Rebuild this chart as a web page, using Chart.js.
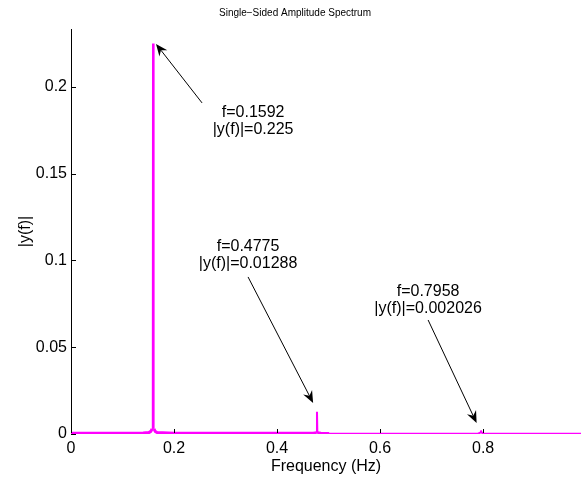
<!DOCTYPE html>
<html>
<head>
<meta charset="utf-8">
<script src="https://cdn.jsdelivr.net/npm/chart.js@4.4.1/dist/chart.umd.min.js"></script>
<style>
html,body{margin:0;padding:0;background:#fff;}
#wrap{position:relative;width:581px;height:477px;}
</style>
</head>
<body>
<div id="wrap"><canvas id="c" width="581" height="477"></canvas></div>
<script>
// ---- data ----
const freq = [0, 0.05, 0.10, 0.14, 0.151, 0.155, 0.1575, 0.1588, 0.1592, 0.1597, 0.161, 0.1635, 0.167, 0.20, 0.30, 0.40, 0.470, 0.4768, 0.4775, 0.4782, 0.485, 0.4995,
              0.5005, 0.60, 0.70, 0.790, 0.7945, 0.7958, 0.7970, 0.802, 0.90, 0.99];
const amp  = [0.0004, 0.0004, 0.0005, 0.0006, 0.0008, 0.0015, 0.003, 0.01, 0.225, 0.01, 0.003, 0.0015, 0.0008, 0.0005, 0.0004, 0.0004, 0.0005, 0.0007, 0.01288, 0.0007, 0.0004, 0.0003,
              0.0002, 0.0002, 0.0002, 0.0002, 0.0008, 0.002026, 0.0008, 0.0002, 0.0002, 0.0002];
const xTicks = [0, 0.2, 0.4, 0.6, 0.8];
const yTicks = [0, 0.05, 0.1, 0.15, 0.2];
const peakFreq = [0.1592, 0.4775, 0.7958];
const peakAmp  = [0.225, 0.01288, 0.002026];
// annotation placement (data coordinates)
const textX   = [0.3535, 0.3437, 0.6932];
const textY   = [0.1850, 0.1078, 0.0818];
const tailX   = [0.2544, 0.3437, 0.6932];
const tailY   = [0.1908, 0.0905, 0.0657];
const tipX    = [0.1650, 0.4700, 0.7874];
const tipY    = [0.2248, 0.0179, 0.0063];

const FONT = "'Liberation Sans', Arial, Helvetica, sans-serif";

const annotPlugin = {
  id: 'annot',
  afterDatasetsDraw(chart) {
    const {ctx, scales: {x, y}, chartArea} = chart;
    ctx.save();
    // inward tick marks
    ctx.strokeStyle = '#000';
    ctx.lineWidth = 1;
    ctx.beginPath();
    yTicks.forEach(v => {
      const py = Math.round(y.getPixelForValue(v)) + 0.5;
      ctx.moveTo(chartArea.left, py); ctx.lineTo(chartArea.left + 5, py);
    });
    xTicks.forEach(v => {
      const px = Math.round(x.getPixelForValue(v)) + 0.5;
      ctx.moveTo(px, chartArea.bottom - 1); ctx.lineTo(px, chartArea.bottom - 5);
    });
    ctx.stroke();

    // annotations
    ctx.fillStyle = '#000';
    ctx.strokeStyle = '#000';
    ctx.font = '16px ' + FONT;
    ctx.textAlign = 'center';
    ctx.textBaseline = 'middle';
    for (let i = 0; i < peakFreq.length; i++) {
      const tx = x.getPixelForValue(textX[i]);
      const ty = y.getPixelForValue(textY[i]);
      ctx.fillText('f=' + peakFreq[i], tx, ty);
      ctx.fillText('|y(f)|=' + peakAmp[i], tx, ty + 17);

      const x0 = x.getPixelForValue(tailX[i]), y0 = y.getPixelForValue(tailY[i]);
      const x1 = x.getPixelForValue(tipX[i]),  y1 = y.getPixelForValue(tipY[i]);
      const ang = Math.atan2(y1 - y0, x1 - x0);
      const L = 12, W = 5, back = 8;
      const bx = x1 - back * Math.cos(ang), by = y1 - back * Math.sin(ang);
      ctx.beginPath();
      ctx.moveTo(x0, y0); ctx.lineTo(bx, by);
      ctx.lineWidth = 1;
      ctx.stroke();
      const ex = x1 - L * Math.cos(ang), ey = y1 - L * Math.sin(ang);
      const nx = -Math.sin(ang), ny = Math.cos(ang);
      ctx.beginPath();
      ctx.moveTo(x1, y1);
      ctx.lineTo(ex + nx * W, ey + ny * W);
      ctx.lineTo(bx, by);
      ctx.lineTo(ex - nx * W, ey - ny * W);
      ctx.closePath();
      ctx.fill();
    }
    ctx.restore();
  }
};

new Chart(document.getElementById('c'), {
  type: 'scatter',
  data: {
    datasets: [{
      data: freq.map((f, i) => ({x: f, y: amp[i]})),
      showLine: true,
      borderColor: '#ff00ff',
      backgroundColor: '#ff00ff',
      borderWidth: 2,
      pointRadius: 0,
      pointHoverRadius: 0,
      tension: 0,
      borderJoinStyle: 'bevel',
      segment: {
        borderWidth: ctx => {
          if (ctx.p0.parsed.x >= 0.5) return 2;
          if (Math.max(ctx.p0.parsed.y, ctx.p1.parsed.y) > 0.003) return 2;
          return 3;
        }
      }
    }]
  },
  options: {
    responsive: false,
    animation: false,
    events: [],
    layout: {padding: {left: 9, right: 0, top: 0, bottom: 0}},
    plugins: {
      legend: {display: false},
      tooltip: {enabled: false},
      title: {
        display: true,
        text: 'Single\u2212Sided Amplitude Spectrum',
        color: '#000',
        font: {family: FONT, size: 10, weight: 'normal'},
        padding: {top: 7, bottom: 10}
      }
    },
    scales: {
      x: {
        type: 'linear',
        min: 0, max: 0.99,
        afterBuildTicks: s => { s.ticks = xTicks.map(v => ({value: v})); },
        afterFit: s => { s.height = 43; },
        grid: {display: false, drawTicks: false},
        border: {display: false},
        ticks: {
          color: '#000', padding: 5,
          font: {family: FONT, size: 16},
          maxRotation: 0,
          callback: v => String(+v.toFixed(2))
        },
        title: {display: true, text: 'Frequency (Hz)', color: '#000',
                font: {family: FONT, size: 16}, padding: {top: 0, bottom: 1}}
      },
      y: {
        type: 'linear',
        min: 0, max: 0.2334,
        afterBuildTicks: s => { s.ticks = yTicks.map(v => ({value: v})); },
        afterFit: s => { s.width = 62; },
        grid: {display: false, drawTicks: false},
        border: {display: true, color: '#000', width: 1},
        ticks: {
          color: '#000', padding: 4,
          font: {family: FONT, size: 16},
          callback: v => String(+v.toFixed(2))
        },
        title: {display: true, text: '|y(f)|', color: '#000',
                font: {family: FONT, size: 16}, padding: {top: 7, bottom: 0}}
      }
    }
  },
  plugins: [annotPlugin]
});
</script>
</body>
</html>
